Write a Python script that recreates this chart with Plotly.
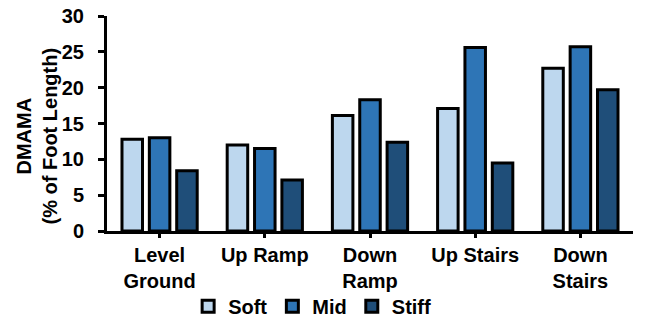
import plotly.graph_objects as go

categories = ["Level<br>Ground", "Up Ramp", "Down<br>Ramp", "Up Stairs", "Down<br>Stairs"]
soft = [12.8, 12.0, 16.1, 17.1, 22.7]
mid = [13.0, 11.5, 18.3, 25.6, 25.7]
stiff = [8.4, 7.1, 12.4, 9.5, 19.7]
y_ticks = [0, 5, 10, 15, 20, 25, 30]

series = [
    ("Soft", soft, "#BDD7EE"),
    ("Mid", mid, "#2E75B6"),
    ("Stiff", stiff, "#1F4E79"),
]

FONT = "Liberation Sans, Arial, sans-serif"

fig = go.Figure()
for name, vals, color in series:
    fig.add_trace(go.Bar(
        name=name,
        x=categories,
        y=vals,
        marker=dict(color=color, line=dict(color="black", width=3)),
    ))

fig.update_layout(
    width=654,
    height=323,
    margin=dict(l=107, r=21, t=16, b=92, autoexpand=False),
    paper_bgcolor="white",
    plot_bgcolor="white",
    font=dict(family=FONT, size=20, color="black", weight="bold"),
    barmode="group",
    bargap=0.22,
    bargroupgap=0.25,
    showlegend=True,
    legend=dict(
        orientation="h",
        x=0.39,
        xanchor="center",
        y=-0.35,
        yanchor="middle",
        font=dict(family=FONT, size=20, color="black", weight="bold"),
        itemwidth=30,
        tracegroupgap=0,
        bgcolor="rgba(0,0,0,0)",
    ),
    xaxis=dict(
        showline=True,
        linecolor="black",
        linewidth=3,
        ticks="outside",
        ticklen=4,
        tickwidth=3,
        tickcolor="black",
        showgrid=False,
        ticklabelstandoff=0,
        automargin=False,
        tickfont=dict(family=FONT, size=20, color="black", weight="bold"),
    ),
    yaxis=dict(
        range=[0, 30],
        tickvals=y_ticks,
        showline=True,
        linecolor="black",
        linewidth=3,
        ticks="outside",
        ticklen=6,
        tickwidth=3,
        tickcolor="black",
        showgrid=False,
        zeroline=False,
        ticklabelstandoff=10,
        automargin=False,
        tickfont=dict(family=FONT, size=20, color="black", weight="bold"),
    ),
    annotations=[
        dict(
            text="DMAMA<br>(% of Foot Length)",
            textangle=-90,
            xref="paper",
            yref="paper",
            x=-0.134,
            y=0.442,
            xanchor="center",
            yanchor="middle",
            showarrow=False,
            font=dict(family=FONT, size=20, color="black", weight="bold"),
        )
    ],
)

fig.write_html("out.html")
